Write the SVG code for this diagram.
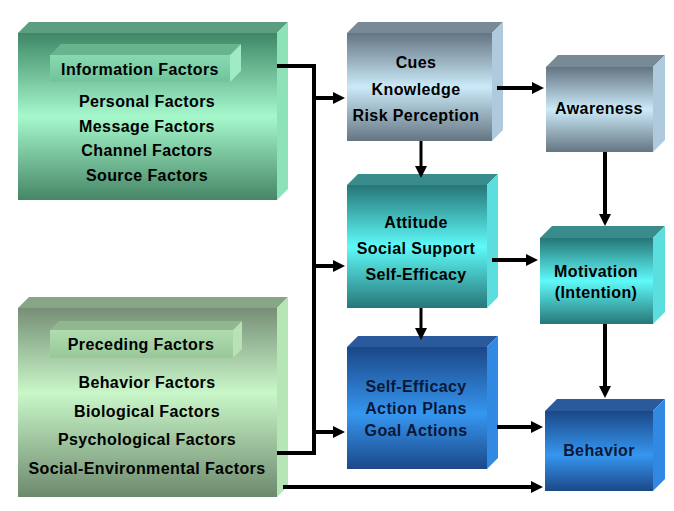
<svg xmlns="http://www.w3.org/2000/svg" width="674" height="511" viewBox="0 0 674 511">
<defs>
<linearGradient id="gInfo" x1="0" y1="0" x2="0" y2="1">
<stop offset="0" stop-color="#3e8767"/><stop offset="0.5" stop-color="#a6f8cc"/><stop offset="1" stop-color="#458666"/>
</linearGradient>
<linearGradient id="gPre" x1="0" y1="0" x2="0" y2="1">
<stop offset="0" stop-color="#778f77"/><stop offset="0.45" stop-color="#c9f7c9"/><stop offset="1" stop-color="#6d896d"/>
</linearGradient>
<linearGradient id="gInfoLbl" x1="0" y1="0" x2="0" y2="1">
<stop offset="0" stop-color="#8ad8b0"/><stop offset="1" stop-color="#6fc49c"/>
</linearGradient>
<linearGradient id="gPreLbl" x1="0" y1="0" x2="0" y2="1">
<stop offset="0" stop-color="#b0dcb0"/><stop offset="1" stop-color="#98c898"/>
</linearGradient>
<linearGradient id="gGray" x1="0" y1="0" x2="0" y2="1">
<stop offset="0" stop-color="#647482"/><stop offset="0.5" stop-color="#cbeaf8"/><stop offset="1" stop-color="#657582"/>
</linearGradient>
<linearGradient id="gTeal" x1="0" y1="0" x2="0" y2="1">
<stop offset="0" stop-color="#267677"/><stop offset="0.5" stop-color="#5ff9f9"/><stop offset="1" stop-color="#277778"/>
</linearGradient>
<linearGradient id="gBlue" x1="0" y1="0" x2="0" y2="1">
<stop offset="0" stop-color="#1b4787"/><stop offset="0.55" stop-color="#3596f0"/><stop offset="1" stop-color="#1c4888"/>
</linearGradient>
<marker id="ah" markerUnits="userSpaceOnUse" markerWidth="12" markerHeight="12" refX="7" refY="6" orient="auto">
<path d="M0,0 L12,6 L0,12 z" fill="#000"/>
</marker>
<style>
text{font-family:"Liberation Sans",Arial,sans-serif;font-weight:bold;font-size:16px;letter-spacing:0.4px;text-anchor:middle;fill:#000}
.navy{fill:#0a1838}
.c{fill:none;stroke:#000;stroke-width:4}
.t{fill:none;stroke:#000;stroke-width:3}
.a{marker-end:url(#ah)}
</style>
</defs>

<g id="info-factors">
<polygon points="18,33 29,22 288,22 277,33" fill="#5e9e80"/>
<polygon points="277,33 288,22 288,189 277,200" fill="#8ee2b8"/>
<rect x="18" y="33" width="259" height="167" fill="url(#gInfo)"/>
<polygon points="50,55 61,44 241,44 230,55" fill="#68b48e"/>
<polygon points="230,55 241,44 241,71 230,82" fill="#a0eac4"/>
<rect x="50" y="55" width="180" height="27" fill="url(#gInfoLbl)"/>
<text x="140" y="75">Information Factors</text>
<text x="147" y="107">Personal Factors</text>
<text x="147" y="132">Message Factors</text>
<text x="147" y="156">Channel Factors</text>
<text x="147" y="181">Source Factors</text>
</g>

<g id="preceding-factors">
<polygon points="18,308 29,297 288,297 277,308" fill="#86a686"/>
<polygon points="277,308 288,297 288,486 277,497" fill="#b6e6b6"/>
<rect x="18" y="308" width="259" height="189" fill="url(#gPre)"/>
<polygon points="50,330 59,321 242,321 233,330" fill="#90b890"/>
<polygon points="233,330 242,321 242,349 233,358" fill="#b8e2b4"/>
<rect x="50" y="330" width="183" height="28" fill="url(#gPreLbl)"/>
<text x="141" y="350">Preceding  Factors</text>
<text x="147" y="388">Behavior Factors</text>
<text x="147" y="417">Biological Factors</text>
<text x="147" y="445">Psychological Factors</text>
<text x="147" y="474">Social-Environmental Factors</text>
</g>

<g id="cues">
<polygon points="347,33 358,22 503,22 492,33" fill="#788a96"/>
<polygon points="492,33 503,22 503,130 492,141" fill="#aecadc"/>
<rect x="347" y="33" width="145" height="108" fill="url(#gGray)"/>
<text x="416" y="68">Cues</text>
<text x="416" y="95">Knowledge</text>
<text x="416" y="121">Risk Perception</text>
</g>

<g id="awareness">
<polygon points="546,67 558,55 665,55 653,67" fill="#788a96"/>
<polygon points="653,67 665,55 665,140 653,152" fill="#aecadc"/>
<rect x="546" y="67" width="107" height="85" fill="url(#gGray)"/>
<text x="599" y="114">Awareness</text>
</g>

<g id="attitude">
<polygon points="347,185 358,174 498,174 487,185" fill="#3a8c8c"/>
<polygon points="487,185 498,174 498,297 487,308" fill="#5cdede"/>
<rect x="347" y="185" width="140" height="123" fill="url(#gTeal)"/>
<text x="416" y="228">Attitude</text>
<text x="416" y="254">Social Support</text>
<text x="416" y="280">Self-Efficacy</text>
</g>

<g id="motivation">
<polygon points="540,238 552,226 665,226 653,238" fill="#3a8c8c"/>
<polygon points="653,238 665,226 665,312 653,324" fill="#5cdede"/>
<rect x="540" y="238" width="113" height="86" fill="url(#gTeal)"/>
<text x="596" y="277">Motivation</text>
<text x="596" y="298">(Intention)</text>
</g>

<g id="self-efficacy">
<polygon points="347,347 358,336 498,336 487,347" fill="#2a5a9c"/>
<polygon points="487,347 498,336 498,458 487,469" fill="#3289e2"/>
<rect x="347" y="347" width="140" height="122" fill="url(#gBlue)"/>
<text class="navy" x="416" y="392">Self-Efficacy</text>
<text class="navy" x="416" y="414">Action Plans</text>
<text class="navy" x="416" y="436">Goal Actions</text>
</g>

<g id="behavior">
<polygon points="545,411 557,399 665,399 653,411" fill="#2a5a9c"/>
<polygon points="653,411 665,399 665,479 653,491" fill="#3289e2"/>
<rect x="545" y="411" width="108" height="80" fill="url(#gBlue)"/>
<text class="navy" x="599" y="456">Behavior</text>
</g>

<g id="connectors">
<path class="c" d="M277,66 H314 V453 H277"/>
<path class="c a" d="M314,98 H340"/>
<path class="c a" d="M314,266 H340"/>
<path class="c a" d="M314,432 H340"/>
<path class="c a" d="M283,487 H538"/>
<path class="c a" d="M497,88 H539"/>
<path class="t a" d="M421,141 V173"/>
<path class="c a" d="M605,152 V221"/>
<path class="c a" d="M492,260 H533"/>
<path class="t a" d="M421,308 V335"/>
<path class="c a" d="M497,427 H538"/>
<path class="c a" d="M605,324 V393"/>
</g>
</svg>
